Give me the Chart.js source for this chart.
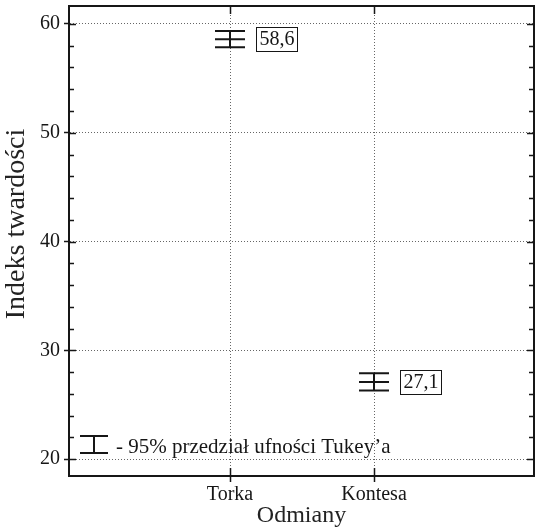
<!DOCTYPE html>
<html><head><meta charset="utf-8">
<script src="https://cdn.jsdelivr.net/npm/chart.js@4"></script>
<style>html,body{margin:0;padding:0;background:#fff}#wrap{width:536px;height:532px}</style>
</head><body><div id="wrap"><canvas id="c" width="536" height="532"></canvas></div>
<script>
// ---- data ----
const categories = ['Torka', 'Kontesa'];
const means = [58.6, 27.1];
const lowerCI = [57.85, 26.3];
const upperCI = [59.35, 27.9];
const meanLabels = ['58,6', '27,1'];
const yMajorTicks = [20, 30, 40, 50, 60];
const yAxisTitle = 'Indeks twardości';
const xAxisTitle = 'Odmiany';
const legendText = '- 95% przedział ufności Tukey’a';

const FONT = "'Liberation Serif', 'Times New Roman', serif";
const INK = '#161616';

const overlay = {
  id: 'overlay',
  afterDraw(chart) {
    const ctx = chart.ctx;
    const ca = chart.chartArea;
    const xs = chart.scales.x, ys = chart.scales.y;
    ctx.save();
    ctx.strokeStyle = INK;
    // frame top + right
    ctx.lineWidth = 2;
    ctx.beginPath();
    ctx.moveTo(ca.left, ca.top); ctx.lineTo(ca.right, ca.top); ctx.lineTo(ca.right, ca.bottom);
    ctx.stroke();
    // inner ticks on y (left and right)
    ctx.lineWidth = 1.5;
    for (let v = Math.ceil(ys.min / 2) * 2; v <= ys.max; v += 2) {
      const y = Math.round(ys.getPixelForValue(v)) + 0.5;
      const len = yMajorTicks.includes(v) ? 7 : 5;
      ctx.beginPath();
      ctx.moveTo(ca.left, y); ctx.lineTo(ca.left + len, y);
      ctx.moveTo(ca.right, y); ctx.lineTo(ca.right - len, y);
      ctx.stroke();
    }
    // inner ticks on x
    categories.forEach((c, i) => {
      const x = Math.round(xs.getPixelForValue(i + 1)) + 0.5;
      ctx.beginPath();
      ctx.moveTo(x, ca.bottom); ctx.lineTo(x, ca.bottom - 8);
      ctx.moveTo(x, ca.top); ctx.lineTo(x, ca.top + 8);
      ctx.stroke();
    });
    // error bars + labels
    ctx.lineWidth = 2;
    ctx.font = '20px ' + FONT;
    ctx.textBaseline = 'middle';
    ctx.textAlign = 'left';
    categories.forEach((c, i) => {
      const x = xs.getPixelForValue(i + 1);
      const yt = ys.getPixelForValue(upperCI[i]);
      const yb = ys.getPixelForValue(lowerCI[i]);
      const ym = ys.getPixelForValue(means[i]);
      const hw = 15;
      ctx.beginPath();
      ctx.moveTo(x - hw, yt); ctx.lineTo(x + hw, yt);
      ctx.moveTo(x - hw, ym); ctx.lineTo(x + hw, ym);
      ctx.moveTo(x - hw, yb); ctx.lineTo(x + hw, yb);
      ctx.moveTo(x, yt); ctx.lineTo(x, yb);
      ctx.stroke();
      // label box
      const tw = ctx.measureText(meanLabels[i]).width;
      const bx = Math.round(x + 26) + 0.5, bh = 24, bw = Math.round(tw + 6);
      const by = Math.round(ym - bh / 2) + 0.5;
      ctx.save();
      ctx.lineWidth = 1;
      ctx.fillStyle = '#fff';
      ctx.fillRect(bx, by, bw, bh);
      ctx.strokeRect(bx, by, bw, bh);
      ctx.fillStyle = INK;
      ctx.fillText(meanLabels[i], bx + 3, ym + 1);
      ctx.restore();
    });
    // legend
    const lx = ca.left + 11, ltop = ca.bottom - 40, lbot = ca.bottom - 23;
    ctx.beginPath();
    ctx.moveTo(lx, ltop); ctx.lineTo(lx + 28, ltop);
    ctx.moveTo(lx, lbot); ctx.lineTo(lx + 28, lbot);
    ctx.moveTo(lx + 14, ltop); ctx.lineTo(lx + 14, lbot);
    ctx.stroke();
    ctx.fillStyle = INK;
    ctx.font = '21px ' + FONT;
    ctx.textBaseline = 'alphabetic';
    ctx.fillText(legendText, lx + 36, lbot);
    // y axis title
    ctx.save();
    ctx.translate(17, 224);
    ctx.rotate(-Math.PI / 2);
    ctx.font = '28px ' + FONT;
    ctx.textAlign = 'center';
    ctx.textBaseline = 'middle';
    ctx.fillStyle = '#222';
    ctx.fillText(yAxisTitle, 0, 0);
    ctx.restore();
    ctx.restore();
  }
};

new Chart(document.getElementById('c'), {
  type: 'scatter',
  data: { datasets: [{ data: means.map((m, i) => ({ x: i + 1, y: m })), pointRadius: 0, showLine: false }] },
  options: {
    responsive: false, animation: false, devicePixelRatio: 1,
    layout: { padding: { top: 6, right: 2, left: 0, bottom: 0 } },
    plugins: { legend: { display: false }, tooltip: { enabled: false } },
    scales: {
      x: {
        type: 'linear', min: -0.118, max: 3.111,
        afterBuildTicks: s => { s.ticks = categories.map((c, i) => ({ value: i + 1 })); },
        afterFit: s => { s.height = 56; s.paddingLeft = 0; s.paddingRight = 0; },
        ticks: { callback: v => categories[v - 1] ?? '', font: { family: FONT, size: 20 }, color: INK, padding: 1, maxRotation: 0, autoSkip: false },
        grid: { color: '#666', lineWidth: 1, tickLength: 6, tickColor: INK, tickWidth: 1.5 },
        border: { display: true, color: INK, width: 2, dash: [1, 2] },
        title: { display: true, text: xAxisTitle, font: { family: FONT, size: 24 }, color: '#222', padding: { top: 0, bottom: 2 } }
      },
      y: {
        type: 'linear', min: 18.45, max: 61.65,
        afterBuildTicks: s => { s.ticks = yMajorTicks.map(v => ({ value: v })); },
        afterFit: s => { s.width = 69; s.paddingTop = 0; s.paddingBottom = 0; },
        ticks: { font: { family: FONT, size: 20 }, color: INK, padding: 4 },
        grid: { color: '#666', lineWidth: 1, tickLength: 5, tickColor: INK, tickWidth: 1.5 },
        border: { display: true, color: INK, width: 2, dash: [1, 2] }
      }
    }
  },
  plugins: [overlay]
});
</script>
</body></html>
